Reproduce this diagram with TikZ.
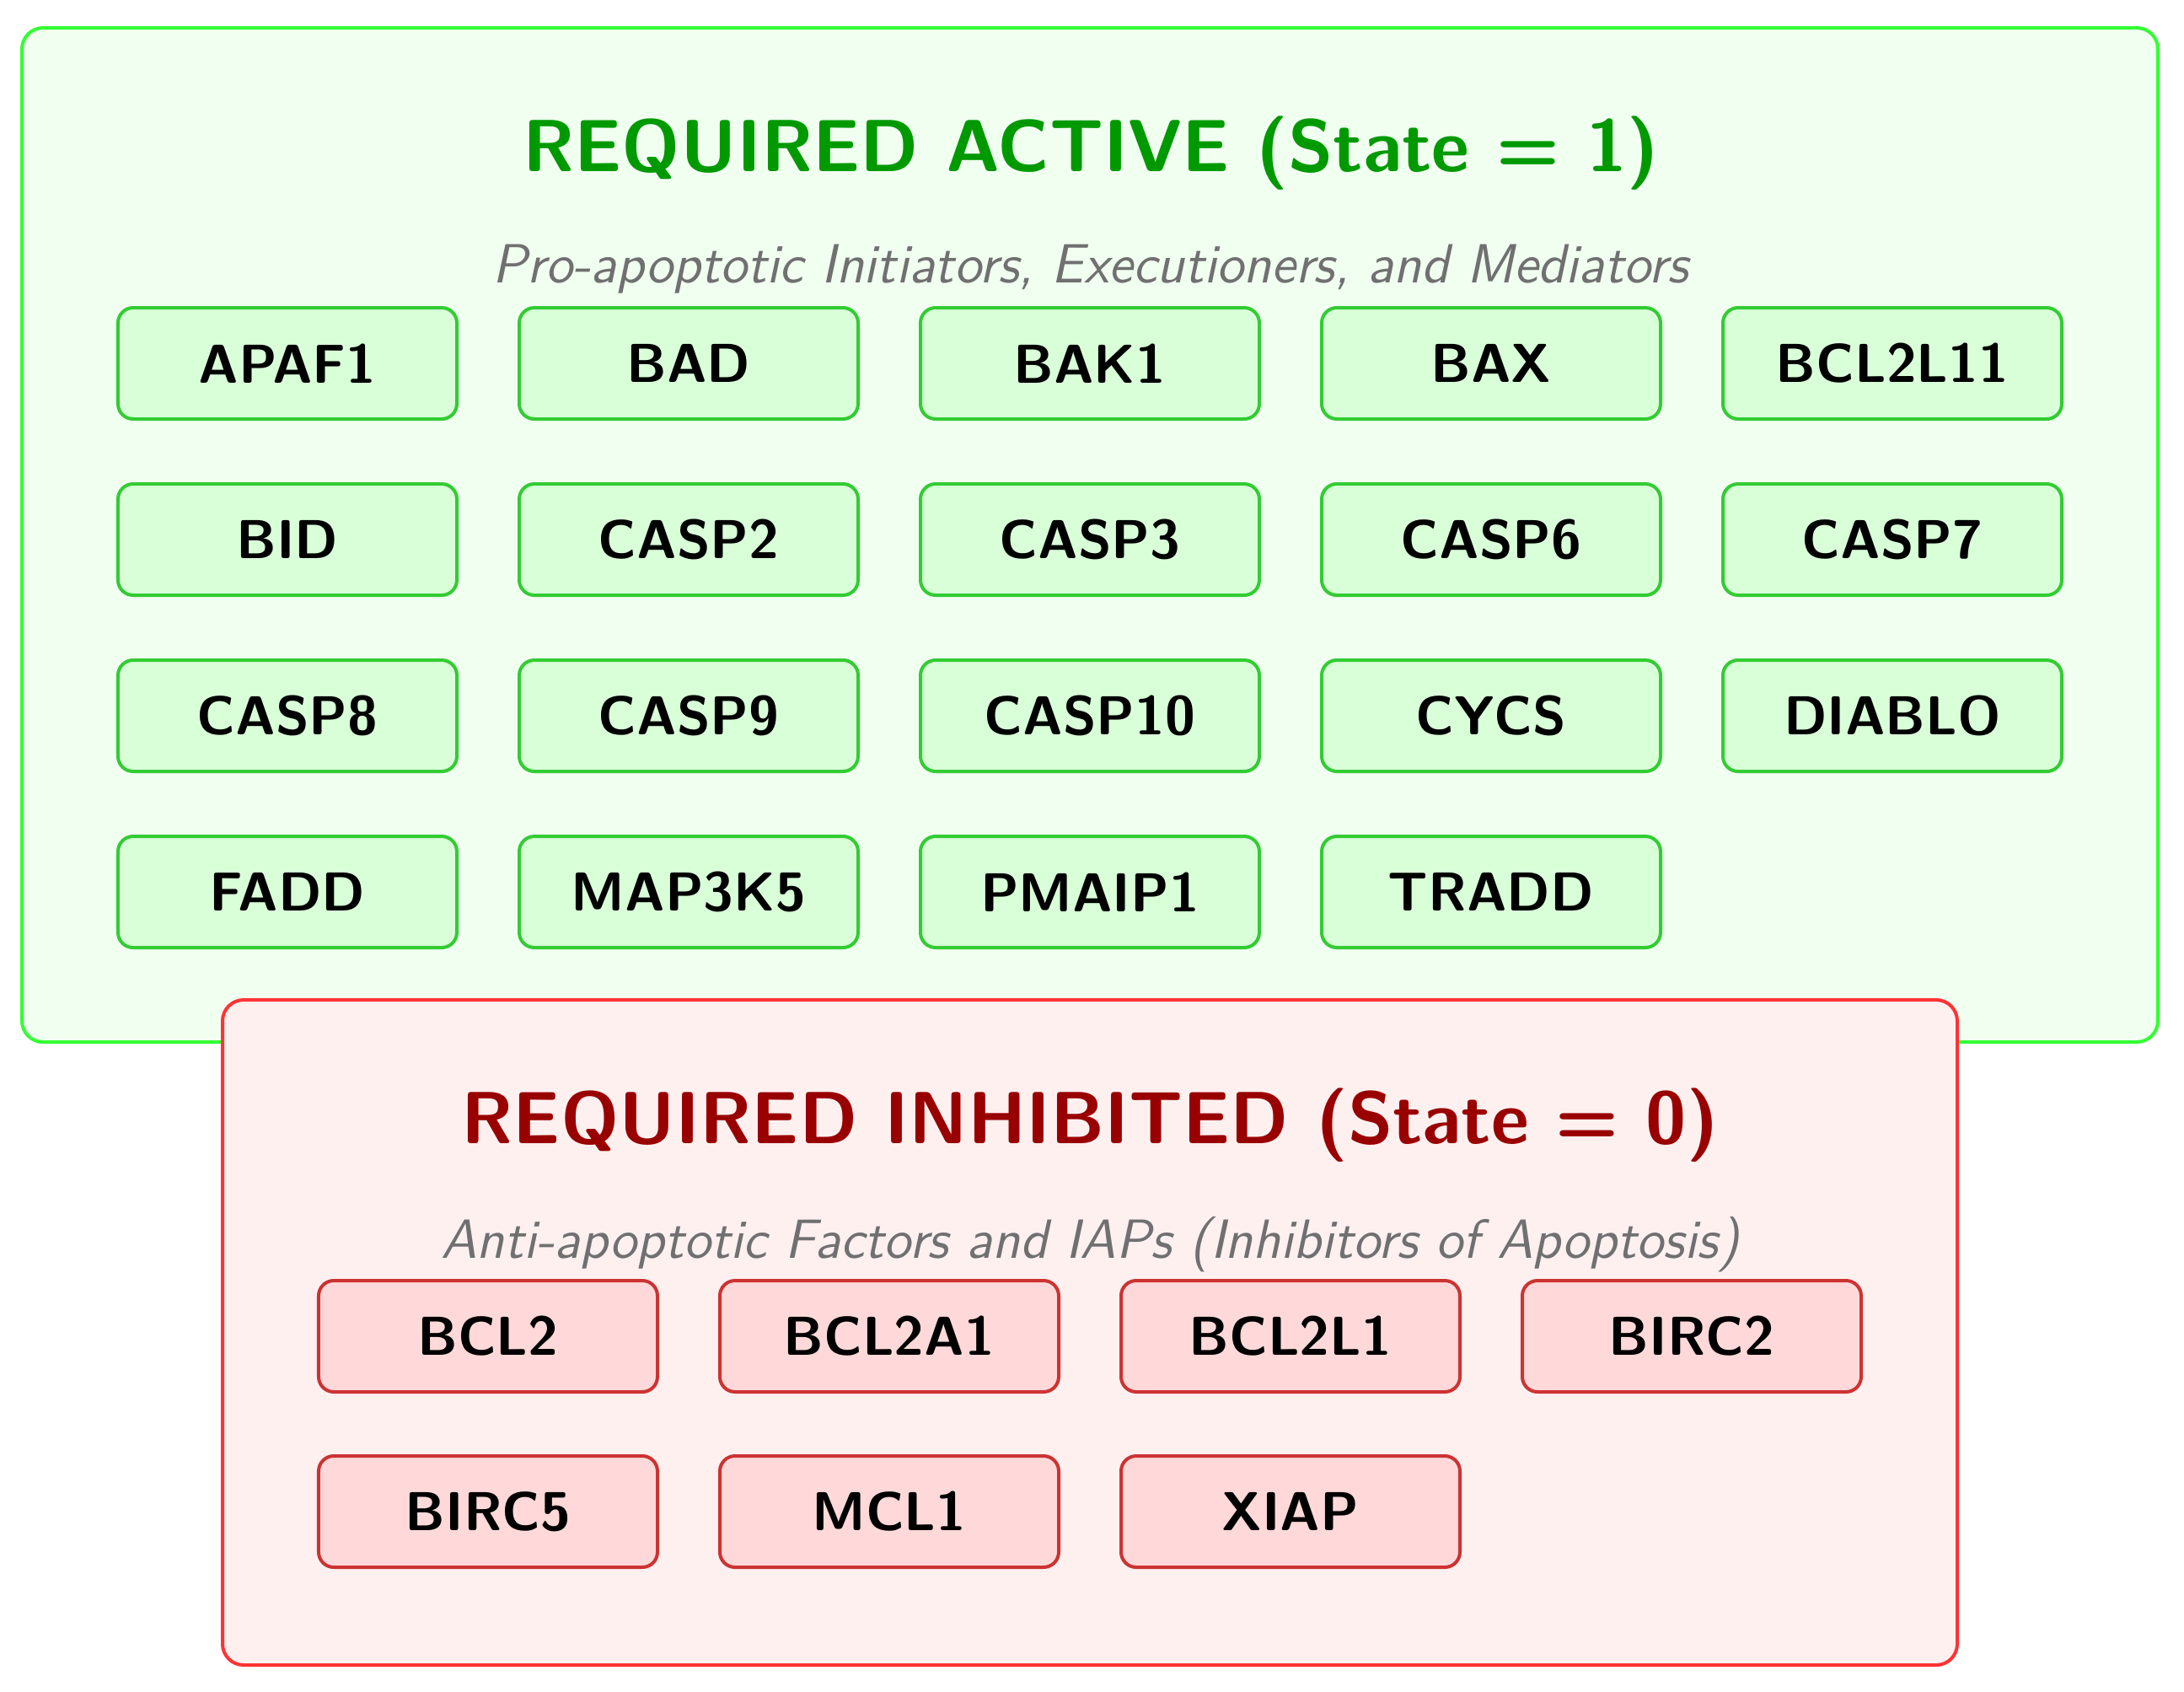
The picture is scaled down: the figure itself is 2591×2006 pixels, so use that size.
\documentclass[tikz,border=0pt]{standalone}
\usepackage{fontspec}
\begin{document}
\begin{tikzpicture}[x=0.2pt,y=-0.2pt,
  gnode/.style={draw=gnodeline, line width=0.8pt, fill=gnodefill, rounded corners=3.6pt, minimum width=80.4pt, minimum height=26.4pt, inner sep=0pt, font=\fontsize{13}{15}\sffamily\bfseries},
  rnode/.style={draw=rnodeline, line width=0.8pt, fill=rnodefill, rounded corners=3.6pt, minimum width=80.4pt, minimum height=26.4pt, inner sep=0pt, font=\fontsize{13}{15}\sffamily\bfseries},
  titletext/.style={font=\fontsize{17.5}{20}\sffamily\bfseries},
  subtext/.style={font=\fontsize{13.1}{15}\sffamily\itshape, text=subgray},
  outerbox/.style={line width=0.8pt, rounded corners=5pt}
]
\definecolor{grnbg}{HTML}{F0FFF0}
\definecolor{redbg}{HTML}{FFF0F0}
\definecolor{gnodefill}{HTML}{D9FFD9}
\definecolor{gnodeline}{HTML}{33CC33}
\definecolor{rnodefill}{HTML}{FFD9D9}
\definecolor{rnodeline}{HTML}{CC3333}
\definecolor{redline}{HTML}{FF3333}
\definecolor{gtitle}{HTML}{009900}
\definecolor{rtitle}{HTML}{990000}
\definecolor{subgray}{HTML}{707070}
\definecolor{gouter}{HTML}{33FF33}
\useasboundingbox (0,0) rectangle (2591,2006);
% green container
\draw[outerbox, draw=gouter, fill=grnbg] (26,33) rectangle (2560,1236);
\node[titletext, text=gtitle] (gtitle) at (1294,182) {REQUIRED ACTIVE (State = 1)};
\node[subtext] (gsub) at (1294,319) {Pro-apoptotic Initiators, Executioners, and Mediators};
% green nodes
\node[gnode] (APAF1) at (341,431) {APAF1};
\node[gnode] (BAD) at (817,431) {BAD};
\node[gnode] (BAK1) at (1293,431) {BAK1};
\node[gnode] (BAX) at (1769,431) {BAX};
\node[gnode] (BCL2L11) at (2245,431) {BCL2L11};
\node[gnode] (BID) at (341,640) {BID};
\node[gnode] (CASP2) at (817,640) {CASP2};
\node[gnode] (CASP3) at (1293,640) {CASP3};
\node[gnode] (CASP6) at (1769,640) {CASP6};
\node[gnode] (CASP7) at (2245,640) {CASP7};
\node[gnode] (CASP8) at (341,849) {CASP8};
\node[gnode] (CASP9) at (817,849) {CASP9};
\node[gnode] (CASP10) at (1293,849) {CASP10};
\node[gnode] (CYCS) at (1769,849) {CYCS};
\node[gnode] (DIABLO) at (2245,849) {DIABLO};
\node[gnode] (FADD) at (341,1058) {FADD};
\node[gnode] (MAP3K5) at (817,1058) {MAP3K5};
\node[gnode] (PMAIP1) at (1293,1058) {PMAIP1};
\node[gnode] (TRADD) at (1769,1058) {TRADD};
% red container
\draw[outerbox, draw=redline, fill=redbg] (264,1186) rectangle (2322,1975);
\node[titletext, text=rtitle] (rtitle) at (1293,1335) {REQUIRED INHIBITED (State = 0)};
\node[subtext] (rsub) at (1293,1476) {Anti-apoptotic Factors and IAPs (Inhibitors of Apoptosis)};
% red nodes
\node[rnode] (BCL2) at (579,1585) {BCL2};
\node[rnode] (BCL2A1) at (1055,1585) {BCL2A1};
\node[rnode] (BCL2L1) at (1531,1585) {BCL2L1};
\node[rnode] (BIRC2) at (2007,1585) {BIRC2};
\node[rnode] (BIRC5) at (579,1793) {BIRC5};
\node[rnode] (MCL1) at (1055,1793) {MCL1};
\node[rnode] (XIAP) at (1531,1793) {XIAP};
\end{tikzpicture}
\end{document}
